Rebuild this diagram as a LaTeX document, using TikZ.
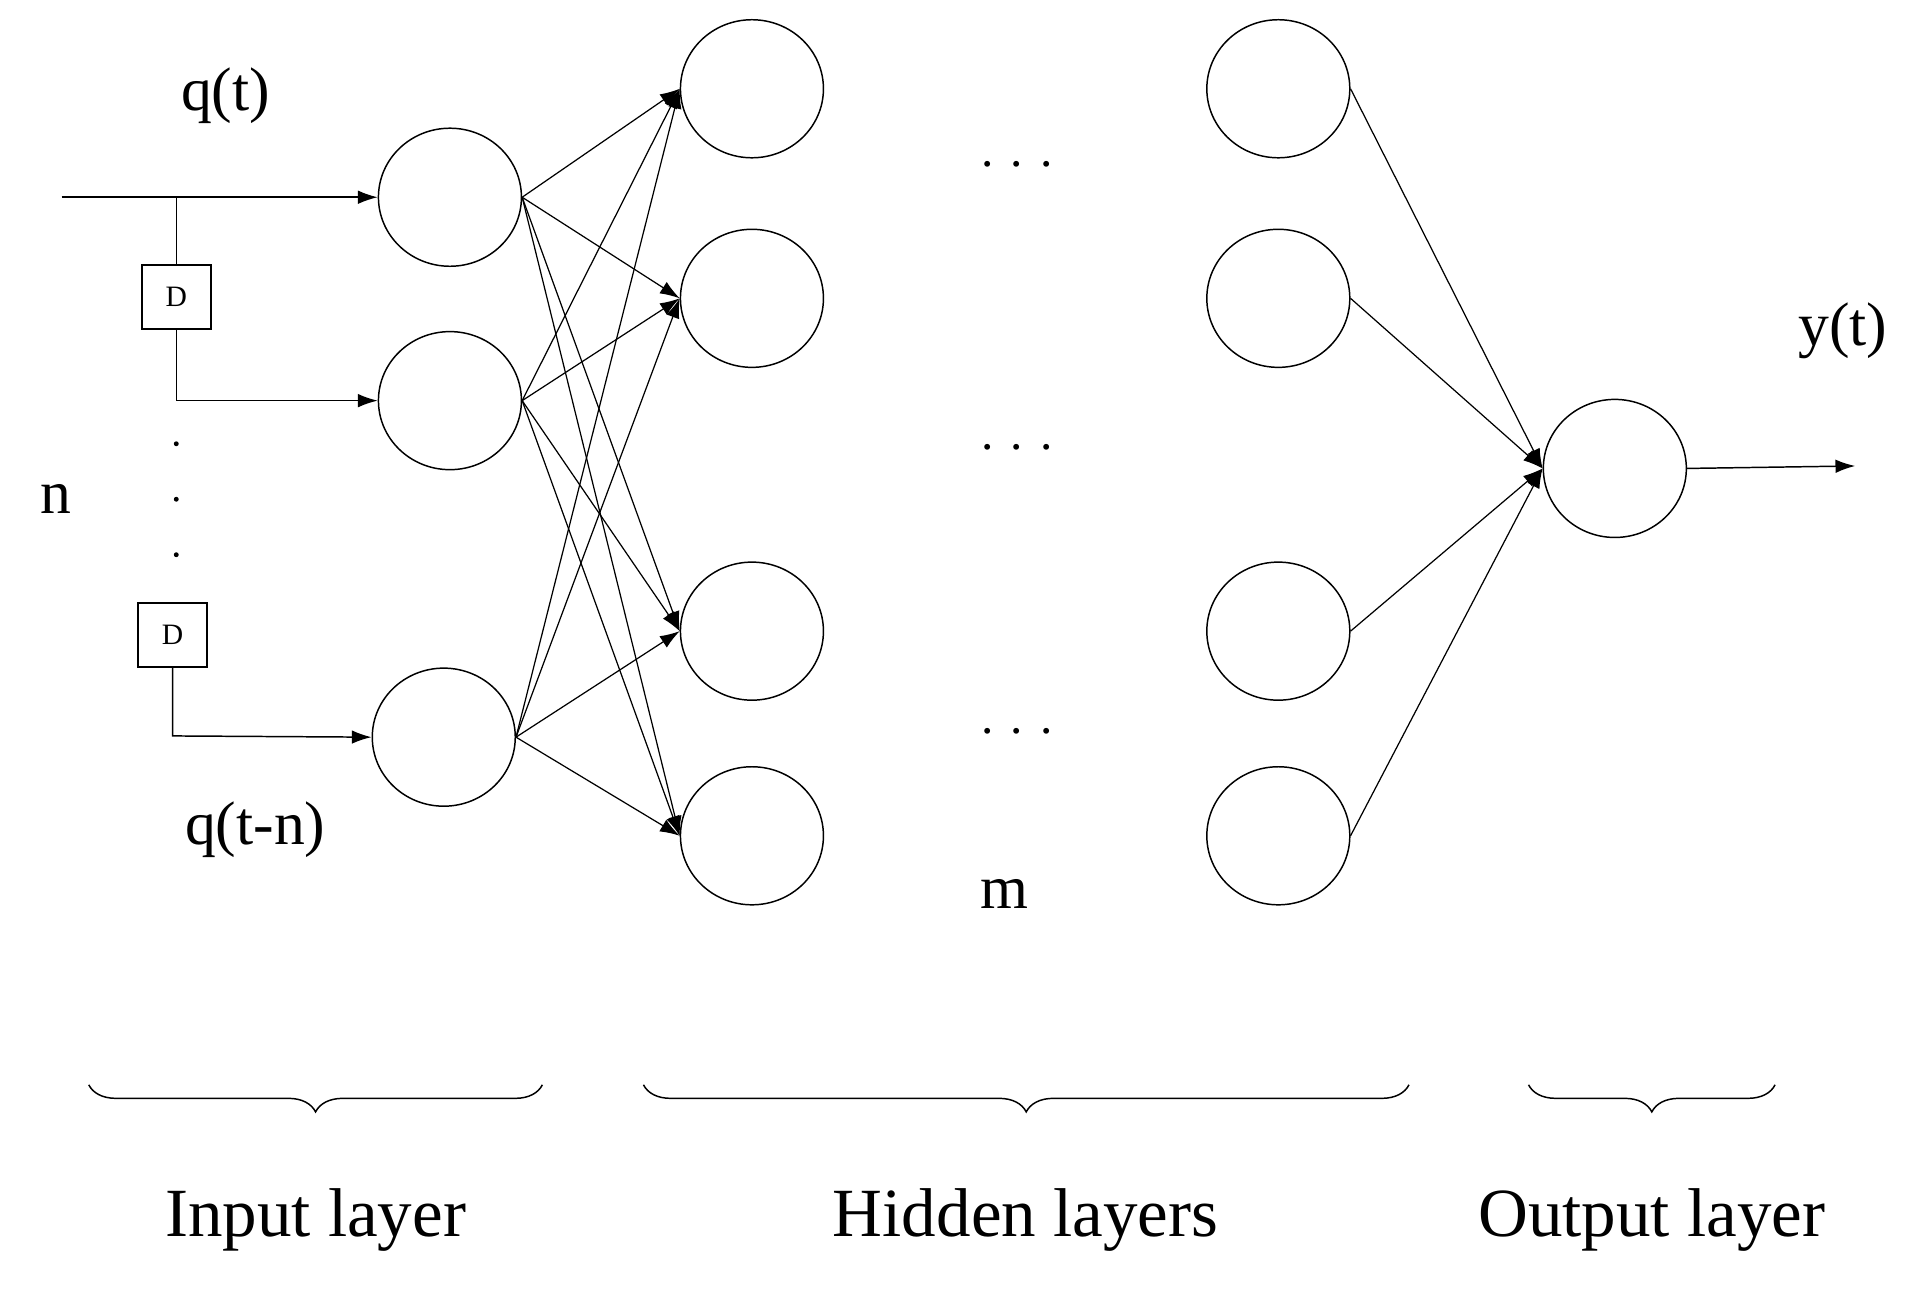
\documentclass[tikz,border=0pt]{standalone}
\usepackage{fontspec}
\setmainfont{Liberation Serif}
\usetikzlibrary{arrows.meta,decorations.pathreplacing,shapes.geometric}
\begin{document}
\begin{tikzpicture}[x=1pt,y=-1pt,
 neu/.style={draw,ellipse,minimum width=116pt,minimum height=112pt,inner sep=0pt,line width=1.2pt},
 dbox/.style={draw,minimum width=56pt,minimum height=52pt,inner sep=0pt,font=\fontsize{24}{26}\selectfont,line width=1.2pt},
 arr/.style={-{Latex[length=16pt,width=11pt]},line width=1.2pt},
 ln/.style={line width=1.2pt},
 lab/.style={font=\fontsize{50}{56}\selectfont},
 big/.style={font=\fontsize{56}{62}\selectfont},
 br/.style={decoration={brace,mirror,amplitude=22pt},decorate,line width=1.2pt}]
\useasboundingbox (0,0) rectangle (1560,1061);
\node[neu] (i1) at (365,160) {};
\node[neu] (i2) at (365,325) {};
\node[neu] (i3) at (360,598) {};
\foreach \n/\y in {1/72,2/242,3/512,4/678}{
 \node[neu] (a\n) at (610,\y) {};
 \node[neu] (b\n) at (1037,\y) {};
}
\node[neu] (o) at (1310,380) {};
\coordinate (s) at (50,160);
\coordinate (j) at (143,160);
\node[dbox] (d1) at (143,241) {D};
\node[dbox] (d2) at (140,515) {D};
\coordinate (c2) at (143,325);
\coordinate (c3) at (140,597);
\draw[arr] (s) -- (i1.west);
\draw[ln] (j) -- (d1.north);
\draw[arr] (d1.south) -- (c2) -- (i2.west);
\draw[arr] (d2.south) -- (c3) -- (i3.west);
\foreach \y in {360,405,450} \fill (143,\y) circle (2pt);
\foreach \i in {1,2,3} \foreach \h in {1,2,3,4}
 \draw[arr,line width=1pt] (i\i.east) -- (a\h.west);
\foreach \h in {1,2,3,4}
 \draw[arr,line width=1pt] (b\h.east) -- (o.west);
\coordinate (e) at (1505,378);
\draw[arr] (o.east) -- (e);
\node[lab] (qt) at (183,78) {q(t)};
\node[lab] (qtn) at (207,673) {q(t-n)};
\node[lab] (n) at (45,405) {n};
\node[lab] (y) at (1495,268) {y(t)};
\node[lab] (m) at (815,725) {m};
\foreach \y/\k in {145/1,375/2,605/3}
 \node[font=\fontsize{40}{40}\selectfont] (dots\k) at (825,\y-12) {.\hspace{14pt}.\hspace{14pt}.};
\draw[br] (72,880) -- (440,880);
\draw[br] (522,880) -- (1143,880);
\draw[br] (1240,880) -- (1440,880);
\node[big] (l1) at (256,990) {Input layer};
\node[big] (l2) at (832,990) {Hidden layers};
\node[big] (l3) at (1340,990) {Output layer};
\end{tikzpicture}
\end{document}
